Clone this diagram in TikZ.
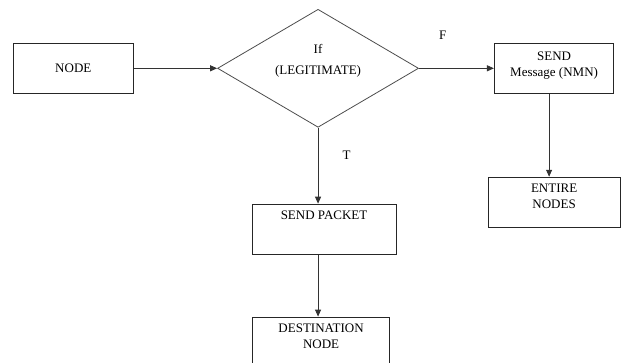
\documentclass[tikz,border=0pt]{standalone}
\usepackage{fontspec}
\setmainfont{Liberation Serif}
\usetikzlibrary{
    arrows.meta,
    positioning,
    shapes.geometric
}
\tikzset{
  box/.style    = {draw=black!85, line width=0.9pt, minimum height=50pt,
                   inner sep=0pt, font=\fontsize{13}{16}\selectfont},
  intext/.style = {anchor=north, yshift=-7pt, inner sep=0pt, align=center,
                   font=\fontsize{13}{16}\selectfont},
  arr/.style    = {-{Triangle[length=7pt,width=6pt]}, line width=0.9pt, black!80}
}

\begin{document}
\begin{tikzpicture}[
    x=1pt, y=-1pt,
    decision/.style={diamond, draw=black!70, line width=0.8pt, inner sep=0pt,
                     minimum width=201pt, minimum height=118pt},
    dtext/.style={anchor=center, yshift=7pt, inner sep=0pt, align=center,
                  font=\fontsize{13}{21}\selectfont},
    tf/.style={inner sep=0pt, font=\fontsize{13}{16}\selectfont}
]
\clip (0,0) rectangle (621,362);

\node[box, minimum width=120pt] (start) at (73.3,68.3) {NODE};
\node[decision, right=83.4pt of start,
      label={[dtext]center:If\\(LEGITIMATE)}] (cond) {};
\node[box, minimum width=119.4pt, right=75pt of cond,
      label={[intext, yshift=-2pt]north:SEND\\Message (NMN)}] (msg) {};
\node[box, minimum width=132pt, below=83pt of msg,
      label={[intext]north:ENTIRE\\NODES}] (entire) {};
\node[box, minimum width=144pt, below=76pt of cond, xshift=6pt,
      label={[intext]north:SEND PACKET}] (pkt) {};
\node[box, minimum width=137pt, below=62pt of pkt, xshift=-3pt,
      label={[intext]north:DESTINATION\\NODE}] (dest) {};

\node[tf] (flab) at (442.7,35) {F};
\node[tf] (tlab) at (346.7,155) {T};

\draw[arr] (start) -- (cond);
\draw[arr] (cond) -- (msg);
\draw[arr] (cond.south) -- (cond.south |- pkt.north);
\draw[arr] (pkt.south -| cond.south) -- (dest.north -| cond.south);
\draw[arr] ([xshift=-5pt]msg.south) -- ([xshift=-5pt]entire.north);
\end{tikzpicture}
\end{document}
